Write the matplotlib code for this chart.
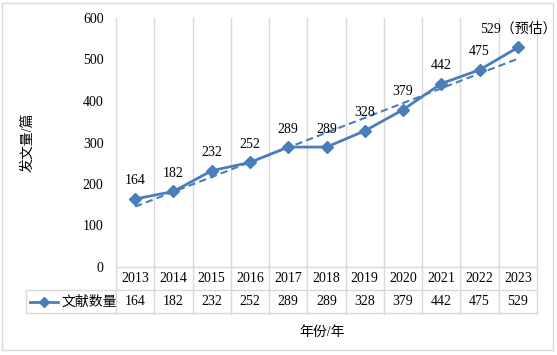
import numpy as np
import matplotlib
matplotlib.use("Agg")
import matplotlib.pyplot as plt
from matplotlib.patches import Rectangle
from matplotlib.lines import Line2D

plt.rcParams["font.family"] = ["Liberation Serif", "Noto Sans CJK SC"]

years = ["2013", "2014", "2015", "2016", "2017", "2018",
         "2019", "2020", "2021", "2022", "2023"]
counts = [164, 182, 232, 252, 289, 289, 328, 379, 442, 475, 529]
point_labels = ["164", "182", "232", "252", "289", "289",
                "328", "379", "442", "475", "529（预估）"]
series_name = "文献数量"
y_ticks = [0, 100, 200, 300, 400, 500, 600]

W, H = 557, 355
blue = "#4a7ebb"
grid = "#d9d9d9"

fig = plt.figure(figsize=(W / 100, H / 100), dpi=100)

# axes placement in pixels
left, right, top, bottom = 116, 537, 18, 267
ax = fig.add_axes([left / W, 1 - bottom / H, (right - left) / W, (bottom - top) / H])

x = np.arange(len(years))
ax.set_xlim(-0.5, len(years) - 0.5)
ax.set_ylim(0, 600)
ax.set_yticks(y_ticks)
ax.tick_params(axis="y", length=0, pad=9, labelsize=10)
ax.set_xticks([])
for s in ax.spines.values():
    s.set_visible(False)

# trend line (linear fit of the series)
k, b = np.polyfit(x, counts, 1)
ax.plot(x, k * x + b, ls=(0, (3.5, 2)), color=blue, lw=1.5)

ax.plot(x, counts, color=blue, lw=2, marker="D", ms=6, zorder=3)
for xi, v, lab in zip(x, counts, point_labels):
    ax.annotate(lab, (xi, v), xytext=(0, 13), textcoords="offset points",
                ha="center", va="center", fontsize=10)

# table below the plot
px_unit = (right - left) / len(years)
row_h = 23 / (bottom - top)
trans = ax.get_xaxis_transform()
legend_left = -0.5 - (left - 26) / px_unit

for bx in np.arange(-0.5, len(years), 1.0):
    ax.plot([bx, bx], [1, -2 * row_h - 0.004], color=grid, lw=1,
            transform=trans, clip_on=False, zorder=0)
ax.plot([-0.5, len(years) - 0.5], [0, 0], color=grid, lw=1,
        transform=trans, clip_on=False)
for yy in (-row_h, -2 * row_h):
    ax.plot([legend_left, len(years) - 0.5], [yy, yy], color=grid, lw=1,
            transform=trans, clip_on=False)
ax.plot([legend_left, legend_left], [-row_h, -2 * row_h], color=grid, lw=1,
        transform=trans, clip_on=False)

for xi, yr, v in zip(x, years, counts):
    ax.text(xi, -row_h / 2, yr, ha="center", va="center", fontsize=10,
            transform=trans)
    ax.text(xi, -1.5 * row_h, str(v), ha="center", va="center", fontsize=10,
            transform=trans)

# legend key inside the table
ly = 1 - 302 / H
fig.add_artist(Line2D([30 / W, 58 / W], [ly, ly], color=blue, lw=2))
fig.add_artist(Line2D([44 / W], [ly], color=blue, marker="D", ms=5))
fig.text(61 / W, ly, series_name, ha="left", va="center", fontsize=10)

# axis titles
fig.text(28 / W, 1 - 142 / H, "发文量/篇", rotation=90, ha="center",
         va="center", fontsize=10)
fig.text(322 / W, 1 - 332 / H, "年份/年", ha="center", va="center", fontsize=10)

# outer chart border
fig.add_artist(Rectangle((2 / W, 1 - 350 / H), 551 / W, 347 / H,
                         transform=fig.transFigure, fill=False,
                         edgecolor=grid, lw=1))

fig.savefig("out.png", dpi=100)
